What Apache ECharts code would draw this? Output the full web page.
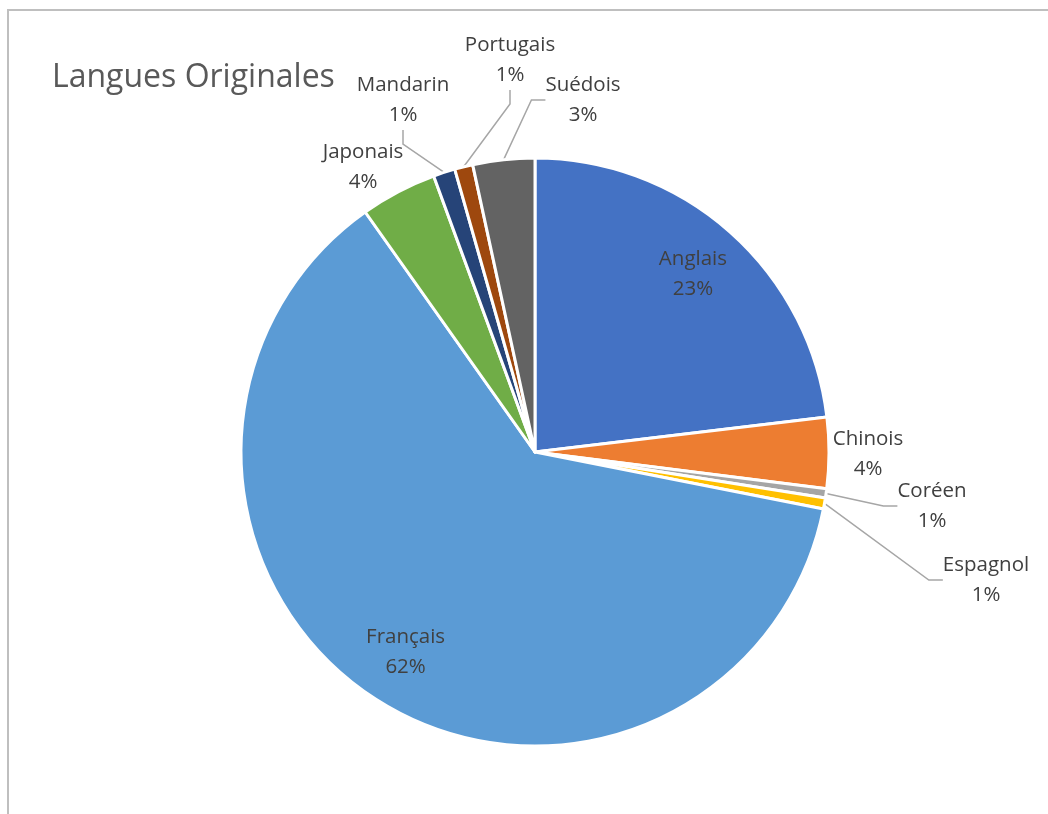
<!DOCTYPE html>
<html>
<head>
<meta charset="utf-8">
<script src="https://cdn.jsdelivr.net/npm/echarts@6/dist/echarts.min.js"></script>
<style>
  html, body { margin: 0; padding: 0; background: #fff; }
  #chart { width: 1048px; height: 814px; }
</style>
</head>
<body>
<div id="chart"></div>
<script>
  // part de chaque langue (en %)
  var langues = ['Anglais', 'Chinois', 'Coréen', 'Espagnol', 'Français', 'Japonais', 'Mandarin', 'Portugais', 'Suédois']
  var parts = [23.1, 3.9, 0.5, 0.6, 62.1, 4.2, 1.2, 1.0, 3.4]
  var couleurs = ['#4472C4', '#ED7D31', '#A5A5A5', '#FFC000', '#5B9BD5', '#70AD47', '#264478', '#9E480E', '#636363']
  var dedans = ['Anglais', 'Français']
  var sansTrait = ['Chinois', 'Japonais']

  // où sont posées les étiquettes extérieures (centre du texte, en px)
  var posEtiquettes = {
    'Chinois': [868, 454],
    'Coréen': [932, 506],
    'Espagnol': [986, 580],
    'Japonais': [363, 167],
    'Mandarin': [403, 100],
    'Portugais': [510, 60],
    'Suédois': [583, 100]
  }

  var chart = echarts.init(document.getElementById('chart'))

  var data = []
  var labelsDedans = []
  for (var i = 0; i < langues.length; i++) {
    var inside = dedans.indexOf(langues[i]) >= 0
    var trait = !inside && sansTrait.indexOf(langues[i]) < 0
    data.push({
      name: langues[i],
      value: parts[i],
      itemStyle: {color: couleurs[i]},
      label: {show: !inside},
      labelLine: {show: trait}
    })
    labelsDedans.push({
      name: langues[i],
      value: parts[i],
      label: {show: inside}
    })
  }

  var fmt = function (p) {
    return p.name + '\n' + Math.round(p.percent) + '%'
  }

  chart.setOption({
    animation: false,
    title: {
      text: 'Langues Originales',
      left: 47,
      top: 57,
      textStyle: {fontFamily: 'Open Sans', fontSize: 32, fontWeight: 'normal', color: '#595959'}
    },
    graphic: [{
      type: 'rect',
      shape: {x: 8, y: 10, width: 1100, height: 900},
      style: {fill: 'none', stroke: '#bfbfbf', lineWidth: 2}
    }],
    series: [
      {
        type: 'pie',
        center: [535, 452],
        radius: 294,
        startAngle: 90,
        clockwise: true,
        avoidLabelOverlap: false,
        itemStyle: {borderColor: '#fff', borderWidth: 3},
        label: {
          position: 'outside',
          formatter: fmt,
          fontFamily: 'Open Sans',
          fontSize: 20.5,
          lineHeight: 30,
          color: '#404040',
          align: 'center'
        },
        labelLine: {
          length: 18,
          length2: 14,
          lineStyle: {color: '#a6a6a6', width: 1.5}
        },
        labelLayout: function (params) {
          var p = posEtiquettes[params.text ? params.text.split('\n')[0] : '']
          if (!p) return {}
          return {
            x: p[0],
            y: p[1],
            align: 'center',
            verticalAlign: 'middle'
          }
        },
        data: data
      },
      {
        // série invisible qui sert seulement à placer les étiquettes intérieures
        type: 'pie',
        center: [535, 452],
        radius: [176, 294],
        startAngle: 90,
        clockwise: true,
        silent: true,
        itemStyle: {color: 'rgba(0,0,0,0)'},
        label: {
          position: 'inside',
          formatter: fmt,
          fontFamily: 'Open Sans',
          fontSize: 20.5,
          lineHeight: 30,
          color: '#404040'
        },
        labelLine: {show: false},
        data: labelsDedans
      }
    ]
  })
</script>
</body>
</html>
